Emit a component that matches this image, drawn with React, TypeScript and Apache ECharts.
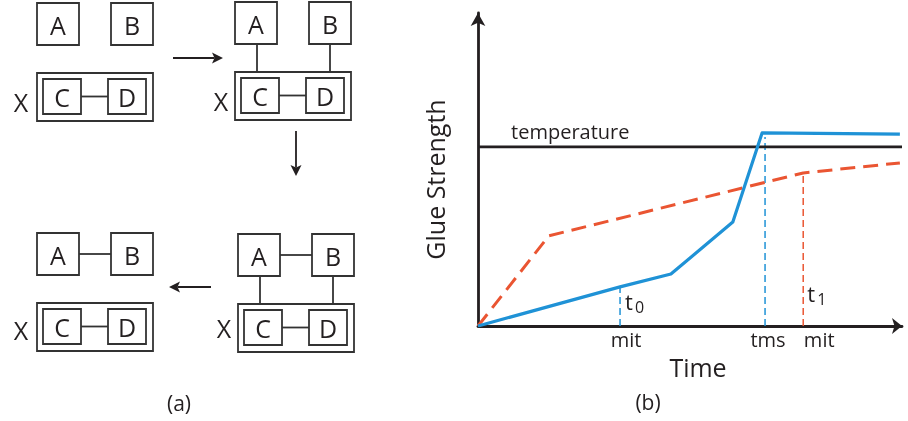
import React, { useEffect, useRef } from 'react';
import * as echarts from 'echarts';

// ---------- Panel (b): Time (0–100) vs Glue Strength (0–100) ----------
const blueTime = [0, 33.5, 45.5, 60.1, 67.0, 99.5];
const blueStrength = [0, 12.5, 16.6, 33.2, 61.7, 61.3];
const redTime = [0, 16.7, 76.7, 99.5];
const redStrength = [0, 28.8, 48.9, 52.1];
const temperatureTime = [0, 100];
const temperatureLevel = [57.2, 57.2];
const markerTime = [33.5, 67.7, 76.7];
const markerTop = [12.5, 60.4, 48.9];
const markerSub = ['0', '', '1'];
const tickLabels = ['mit', 'tms', 'mit'];

// ---------- Panel (a): four steps of the block diagram ----------
const stepLinkAB = [false, false, true, true];
const stepLinkX = [false, true, true, false];
const boxLetters = ['A', 'B', 'C', 'D', 'X'];

const FONT = '"Open Sans", "Noto Sans", sans-serif';
const INK = '#231f20';
const BOX = '#333333';
const BLUE = '#1f92d6';
const RED = '#ea5532';

function zip(a: number[], b: number[]) {
  return a.map((v, i) => [v, b[i]]);
}

function panelElements(ox: number, oy: number, ab: boolean, ax: boolean, xdx: number, xdy: number) {
  const rs = { fill: 'none', stroke: BOX, lineWidth: 1.8 };
  const ls = { stroke: BOX, lineWidth: 1.8 };
  const ts = (text: string) => ({ text, fontSize: 25, fontFamily: FONT, fill: INK, align: 'center', verticalAlign: 'middle' });
  const els: any[] = [
    { type: 'rect', shape: { x: ox, y: oy, width: 42, height: 42 }, style: rs },
    { type: 'rect', shape: { x: ox + 74, y: oy, width: 42, height: 42 }, style: rs },
    { type: 'rect', shape: { x: ox, y: oy + 70, width: 116, height: 48 }, style: rs },
    { type: 'rect', shape: { x: ox + 6, y: oy + 76, width: 38, height: 35 }, style: rs },
    { type: 'rect', shape: { x: ox + 71, y: oy + 76, width: 38, height: 35 }, style: rs },
    { type: 'line', shape: { x1: ox + 44, y1: oy + 93.5, x2: ox + 71, y2: oy + 93.5 }, style: ls },
    { type: 'text', x: ox + 21, y: oy + 22, style: ts(boxLetters[0]) },
    { type: 'text', x: ox + 95, y: oy + 22, style: ts(boxLetters[1]) },
    { type: 'text', x: ox + 25, y: oy + 94, style: ts(boxLetters[2]) },
    { type: 'text', x: ox + 90, y: oy + 94, style: ts(boxLetters[3]) },
    { type: 'text', x: ox + xdx, y: oy + xdy, style: ts(boxLetters[4]) },
  ];
  if (ab) els.push({ type: 'line', shape: { x1: ox + 42, y1: oy + 21, x2: ox + 74, y2: oy + 21 }, style: ls });
  if (ax) {
    els.push({ type: 'line', shape: { x1: ox + 22, y1: oy + 42, x2: ox + 22, y2: oy + 70 }, style: ls });
    els.push({ type: 'line', shape: { x1: ox + 95, y1: oy + 42, x2: ox + 95, y2: oy + 70 }, style: ls });
  }
  return els;
}

function arrow(x1: number, y1: number, x2: number, y2: number) {
  const dx = x2 - x1, dy = y2 - y1;
  const len = Math.hypot(dx, dy);
  const ux = dx / len, uy = dy / len;
  const px = -uy, py = ux;
  const hl = 11, hw = 5.5, notch = 2.5;
  const bx = x2 - ux * hl, by = y2 - uy * hl;
  return [
    { type: 'line', shape: { x1, y1, x2: x2 - ux * (hl - notch), y2: y2 - uy * (hl - notch) }, style: { stroke: INK, lineWidth: 1.8 } },
    {
      type: 'polygon',
      shape: { points: [[x2, y2], [bx + px * hw, by + py * hw], [x2 - ux * (hl - notch), y2 - uy * (hl - notch)], [bx - px * hw, by - py * hw]] },
      style: { fill: INK },
    },
  ];
}

export default function App() {
  const ref = useRef<HTMLDivElement>(null);
  useEffect(() => {
    if (!ref.current) return;
    const chart = echarts.init(ref.current, undefined, { renderer: 'svg' });

    const origins = [[37, 3], [235, 2], [238, 234], [37, 233]];
    const xOffsets = [[-16, 99], [-14, 99], [-14, 94], [-16, 97]];
    const graphics: any[] = [];
    origins.forEach((o, i) => {
      graphics.push(...panelElements(o[0], o[1], stepLinkAB[i], stepLinkX[i], xOffsets[i][0], xOffsets[i][1]));
    });
    graphics.push(...arrow(173, 58, 223, 58));
    graphics.push(...arrow(296, 131, 296, 176));
    graphics.push(...arrow(211, 287, 169, 287));
    graphics.push({ type: 'text', x: 179, y: 403, style: { text: '(a)', fontSize: 21, fontFamily: FONT, fill: INK, align: 'center', verticalAlign: 'middle' } });
    graphics.push({ type: 'text', x: 648, y: 402, style: { text: '(b)', fontSize: 21, fontFamily: FONT, fill: INK, align: 'center', verticalAlign: 'middle' } });

    const markerColors = [BLUE, BLUE, RED];
    const tickDx = [6, 3, 16];
    const tOffset = [[5, -25], [0, 0], [4, -33]];
    const subOffset = [[15, -19], [0, 0], [14, -27]];
    const lbl = (extra: any) => ({
      show: true, fontFamily: FONT, color: INK, fontSize: 20, opacity: 1,
      textBorderWidth: 0, fontWeight: 'normal', ...extra,
    });

    const labelData: any[] = [];
    labelData.push({
      value: [temperatureTime[0], temperatureLevel[0]],
      label: lbl({ position: 'right', distance: 0, offset: [33, -15], formatter: 'temperature' }),
    });
    markerTime.forEach((t, i) => {
      labelData.push({
        value: [t, 0],
        label: lbl({ position: 'inside', offset: [tickDx[i], 13], formatter: tickLabels[i] }),
      });
      if (markerSub[i]) {
        labelData.push({
          value: [t, 0],
          label: lbl({ position: 'right', distance: 0, offset: tOffset[i], formatter: 't', fontSize: 22 }),
        });
        labelData.push({
          value: [t, 0],
          label: lbl({ position: 'right', distance: 0, offset: subOffset[i], formatter: markerSub[i], fontSize: 16 }),
        });
      }
    });

    const series: any[] = [
      {
        type: 'line', name: 'temperature', data: zip(temperatureTime, temperatureLevel), symbol: 'none',
        lineStyle: { color: INK, width: 2.8 }, z: 3,
      },
      ...markerTime.map((t, i) => ({
        type: 'line', data: [[t, 0], [t, markerTop[i]]], symbol: 'none',
        lineStyle: { color: markerColors[i], width: 1.5, type: [7, 4] }, z: 2,
      })),
      {
        type: 'line', name: 'red', data: zip(redTime, redStrength), symbol: 'none',
        lineStyle: { color: RED, width: 3, type: [15, 8] }, z: 4,
      },
      {
        type: 'line', name: 'blue', data: zip(blueTime, blueStrength), symbol: 'none',
        lineStyle: { color: BLUE, width: 3.2, join: 'round' }, z: 5,
      },
      {
        type: 'scatter', data: labelData, symbolSize: 0.1, itemStyle: { color: 'rgba(0,0,0,0)' }, silent: true, z: 6,
      },
    ];

    const axisCommon = {
      type: 'value', min: 0, max: 100,
      axisTick: { show: false }, axisLabel: { show: false }, splitLine: { show: false },
    };

    chart.setOption({
      animation: false,
      textStyle: { fontFamily: FONT },
      grid: { left: 478, top: 13, right: 6, bottom: 95, outerBoundsMode: 'none' },
      xAxis: {
        ...axisCommon,
        name: 'Time', nameLocation: 'middle', nameGap: 28,
        nameTextStyle: { fontSize: 25, color: INK, fontFamily: FONT, padding: [0, 0, 0, 16] },
        axisLine: { show: true, symbol: ['none', 'arrow'], symbolSize: [12, 10], lineStyle: { color: INK, width: 2.8 } },
      },
      yAxis: {
        ...axisCommon,
        name: 'Glue Strength', nameLocation: 'middle', nameGap: 31,
        nameTextStyle: { fontSize: 25, color: INK, fontFamily: FONT, padding: [0, 20, 0, 0] },
        axisLine: { show: true, symbol: ['none', 'arrow'], symbolSize: [11, 13], lineStyle: { color: INK, width: 2.8 } },
      },
      series,
      graphic: { elements: graphics },
    });
    return () => chart.dispose();
  }, []);
  return <div ref={ref} style={{ position: 'fixed', left: 0, top: 0, width: 908, height: 421 }} />;
}
